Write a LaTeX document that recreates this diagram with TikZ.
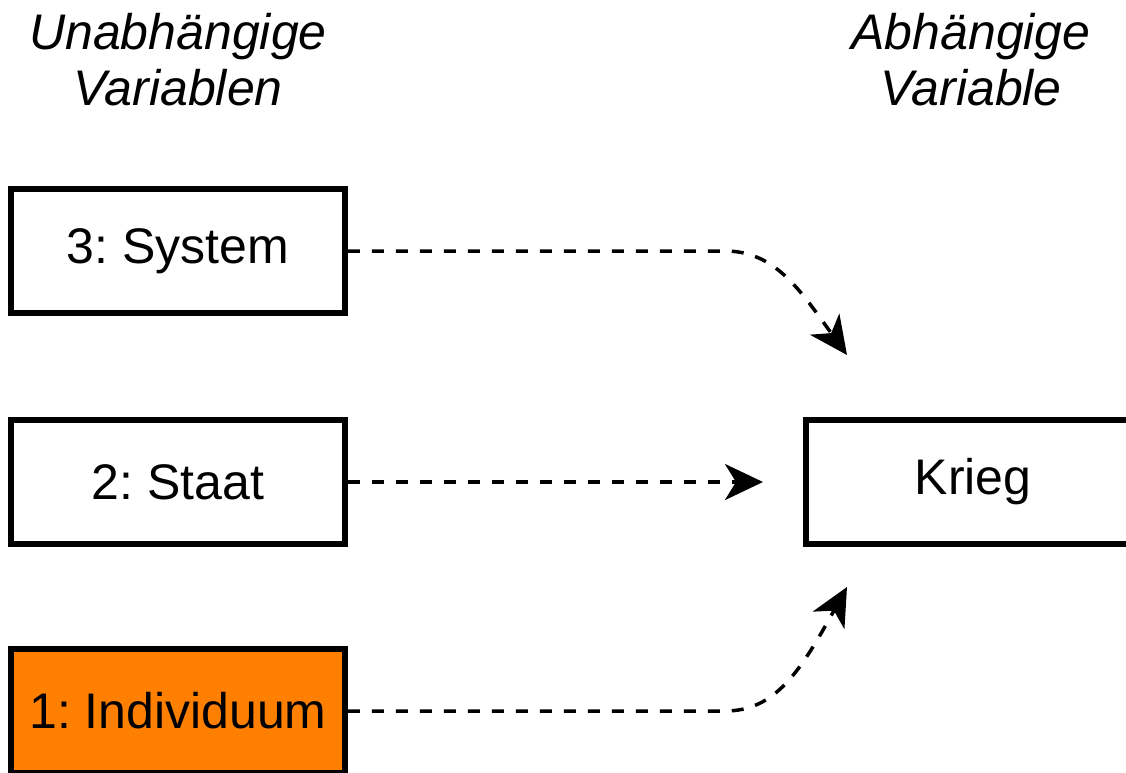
\documentclass[tikz,border=0pt]{standalone}
\usepackage{fontspec}
\setmainfont{Liberation Sans}
\usetikzlibrary{arrows.meta}
\definecolor{orng}{HTML}{FF8000}
\frenchspacing
\begin{document}
\begin{tikzpicture}[x=1pt,y=-1pt,
  varbox/.style={draw=black, line width=5.5pt, minimum width=334pt, minimum height=124pt, inner sep=0pt, font=\fontsize{50}{57}\selectfont\frenchspacing},
  header/.style={align=center, inner sep=0pt, font=\fontsize{50}{56}\selectfont\itshape},
  link/.style={line width=3.5pt, dash pattern=on 12pt off 12pt, -{Stealth[length=38pt, width=36pt, inset=11pt]}}]
\useasboundingbox (0,0) rectangle (1126,772);
\node[header, anchor=base] (hu) at (178,105) {Unabhängige\\Variablen};
\node[header, anchor=base] (ha) at (971,105) {Abhängige\\Variable};
\node[varbox] (sys) at (178,251) {3: System};
\node[varbox] (sta) at (178,482) {2: Staat};
\node[varbox, fill=orng] (ind) at (178,711) {1: Individuum};
\node[varbox] (krieg) at (973,482) {Krieg};
\coordinate (t3) at (847,355);
\coordinate (t2) at (763,482);
\coordinate (t1) at (847,587);
\draw[link] (sys.east) -- (725,251) .. controls (775,251) and (800,290) .. (t3);
\draw[link] (sta.east) -- (t2);
\draw[link] (ind.east) -- (725,711) .. controls (775,711) and (800,672) .. (t1);
\end{tikzpicture}
\end{document}
